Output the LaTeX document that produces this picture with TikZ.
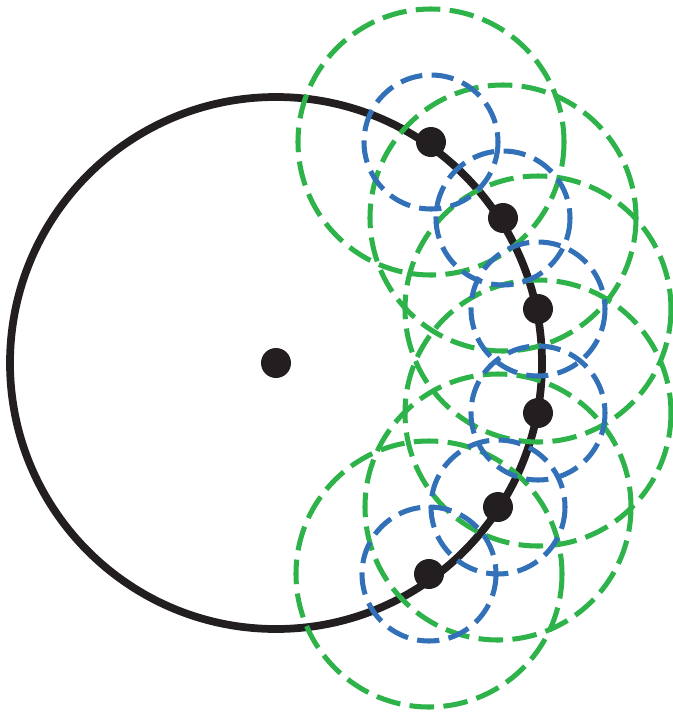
\documentclass[tikz,border=0pt]{standalone}
\usepackage{xcolor}
\definecolor{ringgreen}{RGB}{46,178,74}
\definecolor{ringblue}{RGB}{50,112,184}
\definecolor{inkblack}{RGB}{35,31,32}

\begin{document}
\begin{tikzpicture}[x=0.03cm, y=-0.03cm,
   rim/.style={draw=inkblack, line width=6.6pt},
   outer/.style={draw=ringgreen, line width=4.3pt, dash pattern=on 21pt off 8pt},
   inner/.style={draw=ringblue, line width=4.3pt, dash pattern=on 19pt off 8pt},
   dot/.style={fill=inkblack}]
  \useasboundingbox (0,0) rectangle (673,714);

  \coordinate (c) at (276,363);
  \draw[rim] (c) circle[radius=266];

  % sample points along the rim
  \foreach \x/\y [count=\i] in {431/142, 503/218, 538/309, 538/413, 498/507, 429/574}
    \coordinate (p\i) at (\x,\y);

  \foreach \i in {1,...,6}
    \draw[outer] (p\i) circle[radius=133];
  \foreach \i in {1,...,6}
    \draw[inner] (p\i) circle[radius=67];

  \fill[dot] (c) circle[radius=15];
  \foreach \i in {1,...,6}
    \fill[dot] (p\i) circle[radius=15];
\end{tikzpicture}
\end{document}
